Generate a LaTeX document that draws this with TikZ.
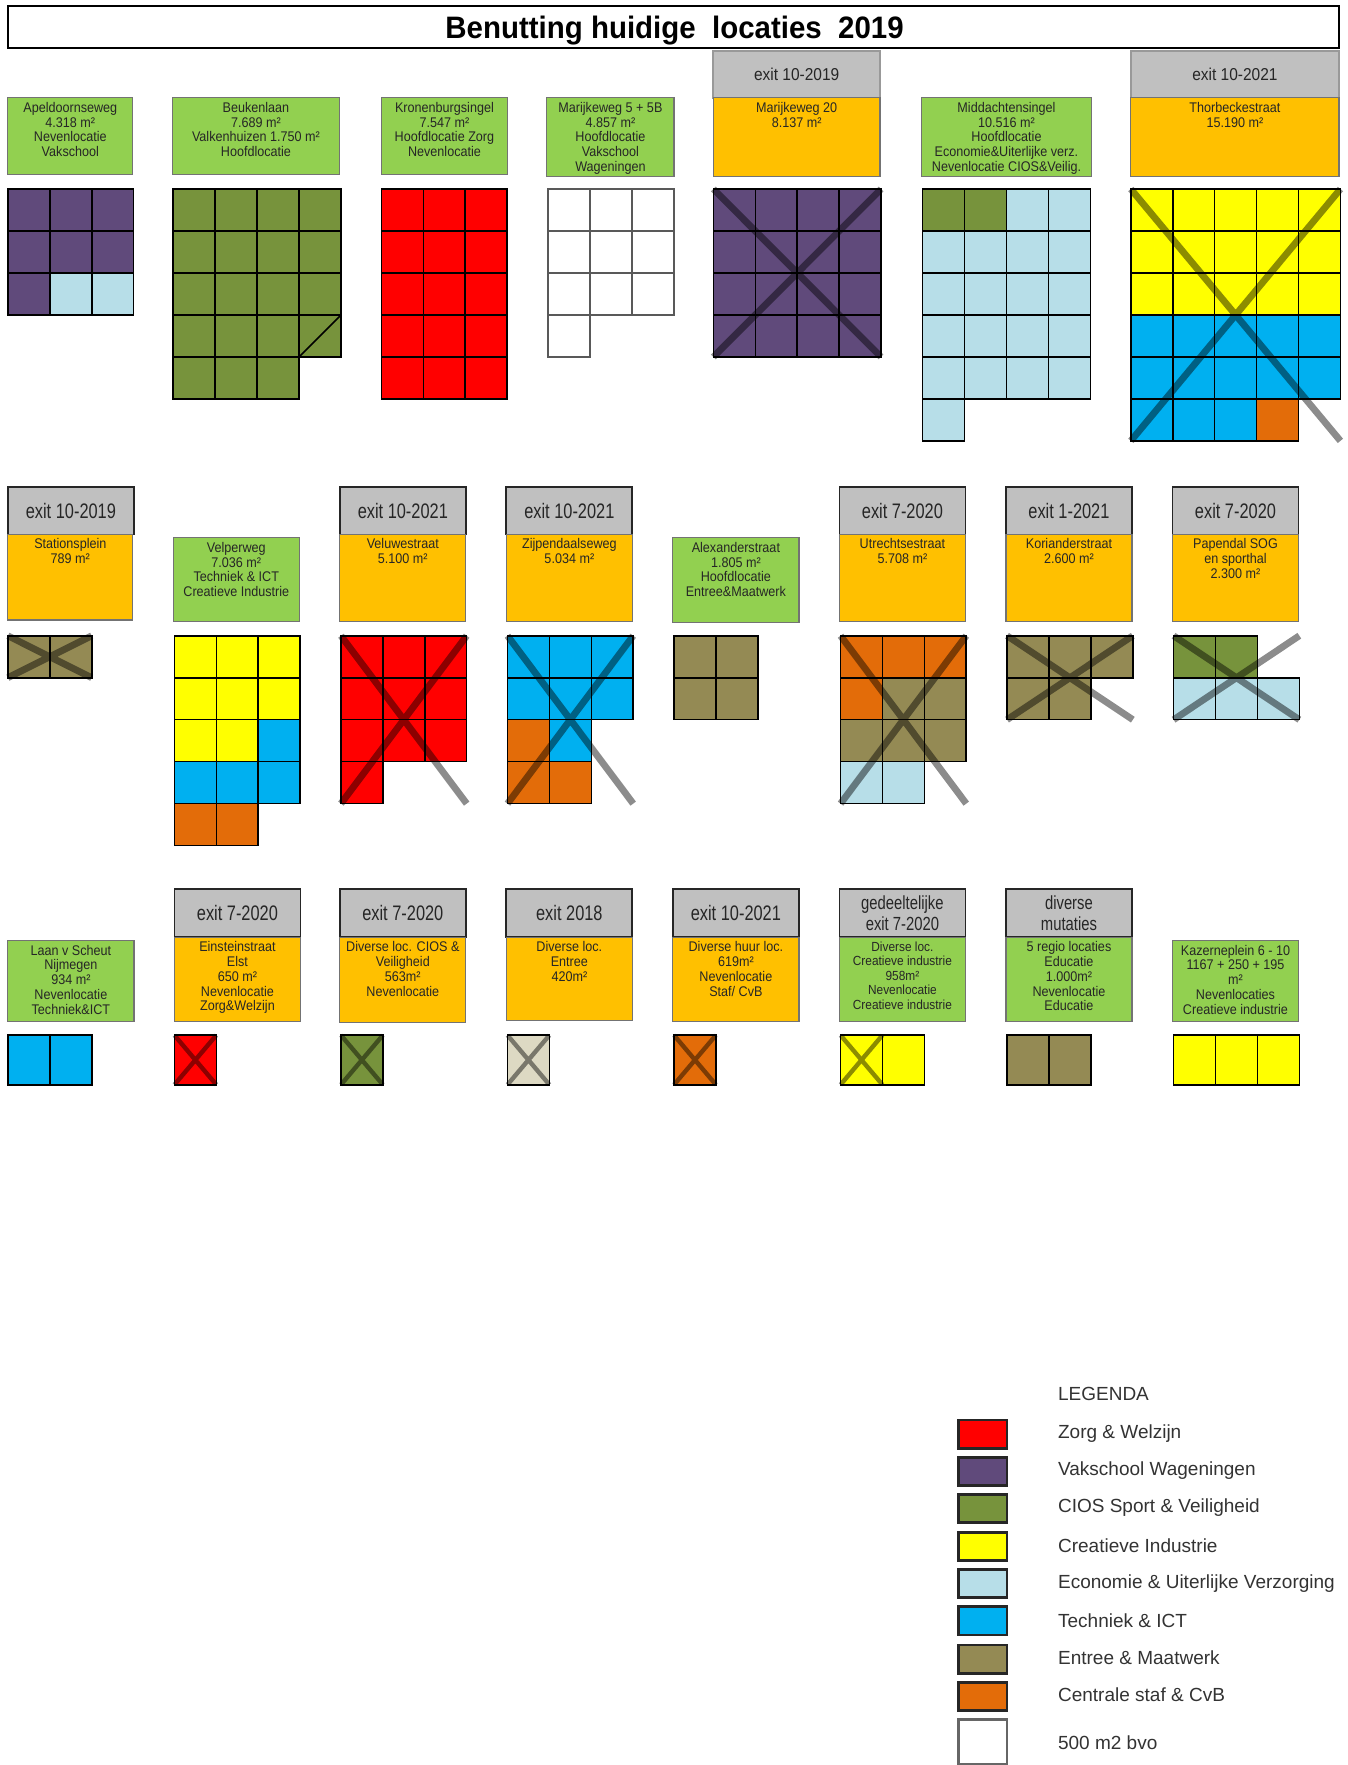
\documentclass[tikz,border=0pt]{standalone}
\usepackage{fontspec}
\setmainfont{Liberation Sans}
\newfontfamily\boxfont[FakeStretch=0.9]{Liberation Sans}
\newfontfamily\hdfont[FakeStretch=0.78]{Liberation Sans}
\newfontfamily\ttlfont[FakeStretch=0.95]{Liberation Sans}
\usetikzlibrary{fit}
\definecolor{lgreen}{HTML}{92D050}
\definecolor{lorange}{HTML}{FFC000}
\definecolor{hgray}{HTML}{C0C0C0}
\definecolor{zorg}{HTML}{FF0000}
\definecolor{vak}{HTML}{604A7B}
\definecolor{cios}{HTML}{77933C}
\definecolor{crea}{HTML}{FFFF00}
\definecolor{eco}{HTML}{B7DEE8}
\definecolor{tech}{HTML}{00B0F0}
\definecolor{entr}{HTML}{948A54}
\definecolor{staf}{HTML}{E36C09}
\definecolor{beig}{HTML}{DDD9C3}
\newcommand\cw{37.25}
\newcommand\ch{37.3}
% x0, y0, cell height, extra style, list col/row/colour
\newcommand\cellset[5]{%
  \foreach \cc/\rr/\kk in {#5} {\draw[cellst,#4,fill=\kk] ({#1+\cc*\cw},{#2+\rr*#3}) rectangle ++(\cw,#3);}}
\newcommand\xcross[5]{\draw[#5] ({#1},{#2}) -- ({#3},{#4}) ({#3},{#2}) -- ({#1},{#4});}
\tikzset{
  gbox/.style={draw=black!55, line width=0.6pt, fill=lgreen, inner sep=0pt},
  obox/.style={draw=black!55, line width=0.6pt, fill=lorange, inner sep=0pt},
  hbox/.style={draw=black!85, line width=0.9pt, fill=hgray, inner sep=0pt},
  btxt/.style={anchor=north, align=center, inner sep=0pt, yshift=-2.2pt, text=black!85, font=\boxfont\fontsize{7}{7.4}\selectfont},
  htxt/.style={align=center, inner sep=0pt, text=black!85, font=\hdfont\fontsize{10.5}{10.5}\selectfont},
  htxtsm/.style={align=center, inner sep=0pt, text=black!85, font=\boxfont\fontsize{8.6}{10}\selectfont},
  cellst/.style={draw=black, line width=0.8pt},
  xl/.style={draw=black, draw opacity=0.45, line width=3.4pt},
  xs/.style={draw=black, draw opacity=0.45, line width=2.2pt},
  lgsq/.style={draw=black!85, line width=1.4pt, inner sep=0pt},
  lgtxt/.style={anchor=west, inner sep=0pt, text=black!80, font=\fontsize{9.5}{11}\selectfont},
}
\begin{document}
\begin{tikzpicture}[x=0.5626pt, y=-0.5626pt]
\path[use as bounding box, fill=white] (0,0) rectangle (1198,1568.6);
% title
\node[draw=black, line width=0.9pt, fill=white, inner sep=0pt, fit={(7,5) (1190,43)}] (title) {};
\node[inner sep=0pt, font=\ttlfont\bfseries\fontsize{15.5}{16}\selectfont] (titletxt) at (599.5,27.5) {Benutting huidige~~locaties~~2019};

% ===== row 1 =====
\node[hbox, draw=black!40, fit={(634,45) (782,87)}] (h15) {};
\node[htxtsm] (ht15) at (h15.center) {exit 10-2019};
\node[hbox, draw=black!40, fit={(1005,45) (1190,87)}] (h17) {};
\node[htxtsm] (ht17) at (h17.center) {exit 10-2021};

\node[gbox, fit={(7,87) (118,155)}] (b11) {};
\node[btxt] (t11) at (b11.north) {Apeldoornseweg\\4.318 m²\\Nevenlocatie\\Vakschool};
\node[gbox, fit={(153,87) (302,155)}] (b12) {};
\node[btxt] (t12) at (b12.north) {Beukenlaan\\7.689 m²\\Valkenhuizen 1.750 m²\\Hoofdlocatie};
\node[gbox, fit={(339,87) (451,155)}] (b13) {};
\node[btxt] (t13) at (b13.north) {Kronenburgsingel\\7.547 m²\\Hoofdlocatie Zorg\\Nevenlocatie};
\node[gbox, fit={(486,87) (599,157)}] (b14) {};
\node[btxt] (t14) at (b14.north) {Marijkeweg 5 + 5B\\4.857 m²\\Hoofdlocatie\\Vakschool\\Wageningen};
\node[obox, fit={(634,87) (782,157)}] (b15) {};
\node[btxt] (t15) at (b15.north) {Marijkeweg 20\\8.137 m²};
\node[gbox, fit={(819,87) (970,157)}] (b16) {};
\node[btxt] (t16) at (b16.north) {Middachtensingel\\10.516 m²\\Hoofdlocatie\\Economie\&Uiterlijke verz.\\Nevenlocatie CIOS\&Veilig.};
\node[obox, fit={(1005,87) (1190,157)}] (b17) {};
\node[btxt] (t17) at (b17.north) {Thorbeckestraat\\15.190 m²};

% grids row 1
\cellset{7}{168}{\ch}{}{0/0/vak,1/0/vak,2/0/vak,0/1/vak,1/1/vak,2/1/vak,0/2/vak,1/2/eco,2/2/eco}
\cellset{154}{168}{\ch}{}{0/0/cios,1/0/cios,2/0/cios,3/0/cios,0/1/cios,1/1/cios,2/1/cios,3/1/cios,0/2/cios,1/2/cios,2/2/cios,3/2/cios,0/3/cios,1/3/cios,2/3/cios,3/3/cios,0/4/cios,1/4/cios,2/4/cios}
\draw[cellst] ({154+3*\cw},{168+4*\ch}) -- ({154+4*\cw},{168+3*\ch});
\cellset{339}{168}{\ch}{}{0/0/zorg,1/0/zorg,2/0/zorg,0/1/zorg,1/1/zorg,2/1/zorg,0/2/zorg,1/2/zorg,2/2/zorg,0/3/zorg,1/3/zorg,2/3/zorg,0/4/zorg,1/4/zorg,2/4/zorg}
\cellset{487}{168}{\ch}{draw=black!65}{0/0/white,1/0/white,2/0/white,0/1/white,1/1/white,2/1/white,0/2/white,1/2/white,2/2/white,0/3/white}
\cellset{634}{168}{\ch}{}{0/0/vak,1/0/vak,2/0/vak,3/0/vak,0/1/vak,1/1/vak,2/1/vak,3/1/vak,0/2/vak,1/2/vak,2/2/vak,3/2/vak,0/3/vak,1/3/vak,2/3/vak,3/3/vak}
\xcross{634}{168}{634+4*\cw}{168+4*\ch}{xl}
\cellset{820}{168}{\ch}{}{0/0/cios,1/0/cios,2/0/eco,3/0/eco,0/1/eco,1/1/eco,2/1/eco,3/1/eco,0/2/eco,1/2/eco,2/2/eco,3/2/eco,0/3/eco,1/3/eco,2/3/eco,3/3/eco,0/4/eco,1/4/eco,2/4/eco,3/4/eco,0/5/eco}
\cellset{1005}{168}{\ch}{}{0/0/crea,1/0/crea,2/0/crea,3/0/crea,4/0/crea,0/1/crea,1/1/crea,2/1/crea,3/1/crea,4/1/crea,0/2/crea,1/2/crea,2/2/crea,3/2/crea,4/2/crea,0/3/tech,1/3/tech,2/3/tech,3/3/tech,4/3/tech,0/4/tech,1/4/tech,2/4/tech,3/4/tech,4/4/tech,0/5/tech,1/5/tech,2/5/tech,3/5/staf}
\xcross{1005}{168}{1005+5*\cw}{168+6*\ch}{xl}

% ===== row 2 =====
\node[hbox, fit={(7,433) (119,475)}] (h21) {};
\node[htxt] (ht21) at (h21.center) {exit 10-2019};
\node[hbox, fit={(302,433) (414,475)}] (h23) {};
\node[htxt] (ht23) at (h23.center) {exit 10-2021};
\node[hbox, fit={(450,433) (562,475)}] (h24) {};
\node[htxt] (ht24) at (h24.center) {exit 10-2021};
\node[hbox, fit={(746,433) (858,475)}] (h26) {};
\node[htxt] (ht26) at (h26.center) {exit 7-2020};
\node[hbox, fit={(894,433) (1006,475)}] (h27) {};
\node[htxt] (ht27) at (h27.center) {exit 1-2021};
\node[hbox, fit={(1042,433) (1154,475)}] (h28) {};
\node[htxt] (ht28) at (h28.center) {exit 7-2020};

\node[obox, fit={(7,475) (118,551)}] (b21) {};
\node[btxt] (t21) at (b21.north) {Stationsplein\\789 m²};
\node[gbox, fit={(154,478) (266,552)}] (b22) {};
\node[btxt] (t22) at (b22.north) {Velperweg\\7.036 m²\\Techniek \& ICT\\Creatieve Industrie};
\node[obox, fit={(302,475) (414,552)}] (b23) {};
\node[btxt] (t23) at (b23.north) {Veluwestraat\\5.100 m²};
\node[obox, fit={(450,475) (562,552)}] (b24) {};
\node[btxt] (t24) at (b24.north) {Zijpendaalseweg\\5.034 m²};
\node[gbox, fit={(598,478) (710,553)}] (b25) {};
\node[btxt] (t25) at (b25.north) {Alexanderstraat\\1.805 m²\\Hoofdlocatie\\Entree\&Maatwerk};
\node[obox, fit={(746,475) (858,552)}] (b26) {};
\node[btxt] (t26) at (b26.north) {Utrechtsestraat\\5.708 m²};
\node[obox, fit={(894,475) (1006,552)}] (b27) {};
\node[btxt] (t27) at (b27.north) {Korianderstraat\\2.600 m²};
\node[obox, fit={(1042,475) (1154,552)}] (b28) {};
\node[btxt] (t28) at (b28.north) {Papendal SOG\\en sporthal\\2.300 m²};

% grids row 2
\cellset{7}{565}{\ch}{}{0/0/entr,1/0/entr}
\xcross{7}{565}{7+2*\cw}{565+\ch}{xl}
\cellset{155}{565}{\ch}{}{0/0/crea,1/0/crea,2/0/crea,0/1/crea,1/1/crea,2/1/crea,0/2/crea,1/2/crea,2/2/tech,0/3/tech,1/3/tech,2/3/tech,0/4/staf,1/4/staf}
\cellset{303}{565}{\ch}{}{0/0/zorg,1/0/zorg,2/0/zorg,0/1/zorg,1/1/zorg,2/1/zorg,0/2/zorg,1/2/zorg,2/2/zorg,0/3/zorg}
\xcross{303}{565}{303+3*\cw}{565+4*\ch}{xl}
\cellset{451}{565}{\ch}{}{0/0/tech,1/0/tech,2/0/tech,0/1/tech,1/1/tech,2/1/tech,0/2/staf,1/2/tech,0/3/staf,1/3/staf}
\xcross{451}{565}{451+3*\cw}{565+4*\ch}{xl}
\cellset{599}{565}{\ch}{}{0/0/entr,1/0/entr,0/1/entr,1/1/entr}
\cellset{747}{565}{\ch}{}{0/0/staf,1/0/staf,2/0/staf,0/1/staf,1/1/entr,2/1/entr,0/2/entr,1/2/entr,2/2/entr,0/3/eco,1/3/eco}
\xcross{747}{565}{747+3*\cw}{565+4*\ch}{xl}
\cellset{895}{565}{\ch}{}{0/0/entr,1/0/entr,2/0/entr,0/1/entr,1/1/entr}
\xcross{895}{565}{895+3*\cw}{565+2*\ch}{xl}
\cellset{1043}{565}{\ch}{}{0/0/cios,1/0/cios,0/1/eco,1/1/eco,2/1/eco}
\xcross{1043}{565}{1043+3*\cw}{565+2*\ch}{xl}

% ===== row 3 =====
\node[hbox, fit={(155,790) (267,833)}] (h32) {};
\node[htxt] (ht32) at (h32.center) {exit 7-2020};
\node[hbox, fit={(302,790) (414,833)}] (h33) {};
\node[htxt] (ht33) at (h33.center) {exit 7-2020};
\node[hbox, fit={(450,790) (562,833)}] (h34) {};
\node[htxt] (ht34) at (h34.center) {exit 2018};
\node[hbox, fit={(598,790) (710,833)}] (h35) {};
\node[htxt] (ht35) at (h35.center) {exit 10-2021};
\node[hbox, fit={(746,790) (858,833)}] (h36) {};
\node[htxt, font=\hdfont\fontsize{9.5}{10.5}\selectfont] (ht36) at (h36.center) {gedeeltelijke\\exit 7-2020};
\node[hbox, fit={(894,790) (1006,833)}] (h37) {};
\node[htxt, font=\hdfont\fontsize{9.5}{10.5}\selectfont] (ht37) at (h37.center) {diverse\\mutaties};

\node[gbox, fit={(7,836) (119,908)}] (b31) {};
\node[btxt] (t31) at (b31.north) {Laan v Scheut\\Nijmegen\\934 m²\\Nevenlocatie\\Techniek\&ICT};
\node[obox, fit={(155,833) (267,908)}] (b32) {};
\node[btxt] (t32) at (b32.north) {Einsteinstraat\\Elst\\650 m²\\Nevenlocatie\\Zorg\&Welzijn};
\node[obox, fit={(302,833) (414,909)}] (b33) {};
\node[btxt] (t33) at (b33.north) {Diverse loc. CIOS \&\\Veiligheid\\563m²\\Nevenlocatie};
\node[obox, fit={(450,833) (562,907)}] (b34) {};
\node[btxt] (t34) at (b34.north) {Diverse loc.\\Entree\\420m²};
\node[obox, fit={(598,833) (710,908)}] (b35) {};
\node[btxt] (t35) at (b35.north) {Diverse huur loc.\\619m²\\Nevenlocatie\\Staf/ CvB};
\node[gbox, fit={(746,833) (858,908)}] (b36) {};
\node[btxt, font=\boxfont\fontsize{6.6}{7.3}\selectfont] (t36) at (b36.north) {Diverse loc.\\Creatieve industrie\\958m²\\Nevenlocatie\\Creatieve industrie};
\node[gbox, fit={(894,833) (1006,908)}] (b37) {};
\node[btxt] (t37) at (b37.north) {5 regio locaties\\Educatie\\1.000m²\\Nevenlocatie\\Educatie};
\node[gbox, fit={(1042,836) (1154,908)}] (b38) {};
\node[btxt] (t38) at (b38.north) {Kazerneplein 6 - 10\\1167 + 250 + 195\\m²\\Nevenlocaties\\Creatieve industrie};

% grids row 3
\cellset{7}{920}{44}{}{0/0/tech,1/0/tech}
\cellset{155}{920}{44}{}{0/0/zorg}
\xcross{155}{920}{155+\cw}{964}{xs}
\cellset{303}{920}{44}{}{0/0/cios}
\xcross{303}{920}{303+\cw}{964}{xs}
\cellset{451}{920}{44}{}{0/0/beig}
\xcross{451}{920}{451+\cw}{964}{xs}
\cellset{599}{920}{44}{}{0/0/staf}
\xcross{599}{920}{599+\cw}{964}{xs}
\cellset{747}{920}{44}{}{0/0/crea,1/0/crea}
\xcross{747}{920}{747+\cw}{964}{xs}
\cellset{895}{920}{44}{}{0/0/entr,1/0/entr}
\cellset{1043}{920}{44}{}{0/0/crea,1/0/crea,2/0/crea}

% ===== legend =====
\node[lgtxt] (lgt0) at (940,1239) {LEGENDA};
\node[lgsq, fill=zorg, fit={(852,1262) (895,1287)}] (lg1) {};
\node[lgtxt] (lgt1) at (940,1274) {Zorg \& Welzijn};
\node[lgsq, fill=vak, fit={(852,1295) (895,1320)}] (lg2) {};
\node[lgtxt] (lgt2) at (940,1307) {Vakschool Wageningen};
\node[lgsq, fill=cios, fit={(852,1328) (895,1353)}] (lg3) {};
\node[lgtxt] (lgt3) at (940,1340) {CIOS Sport \& Veiligheid};
\node[lgsq, fill=crea, fit={(852,1362) (895,1387)}] (lg4) {};
\node[lgtxt] (lgt4) at (940,1374) {Creatieve Industrie};
\node[lgsq, fill=eco, fit={(852,1395) (895,1420)}] (lg5) {};
\node[lgtxt] (lgt5) at (940,1407) {Economie \& Uiterlijke Verzorging};
\node[lgsq, fill=tech, fit={(852,1428) (895,1453)}] (lg6) {};
\node[lgtxt] (lgt6) at (940,1440) {Techniek \& ICT};
\node[lgsq, fill=entr, fit={(852,1462) (895,1487)}] (lg7) {};
\node[lgtxt] (lgt7) at (940,1473) {Entree \& Maatwerk};
\node[lgsq, fill=staf, fit={(852,1495) (895,1520)}] (lg8) {};
\node[lgtxt] (lgt8) at (940,1506) {Centrale staf \& CvB};
\node[lgsq, draw=black!60, fill=white, fit={(852,1528) (895,1568)}] (lg9) {};
\node[lgtxt] (lgt9) at (940,1549) {500 m2 bvo};
\end{tikzpicture}
\end{document}
